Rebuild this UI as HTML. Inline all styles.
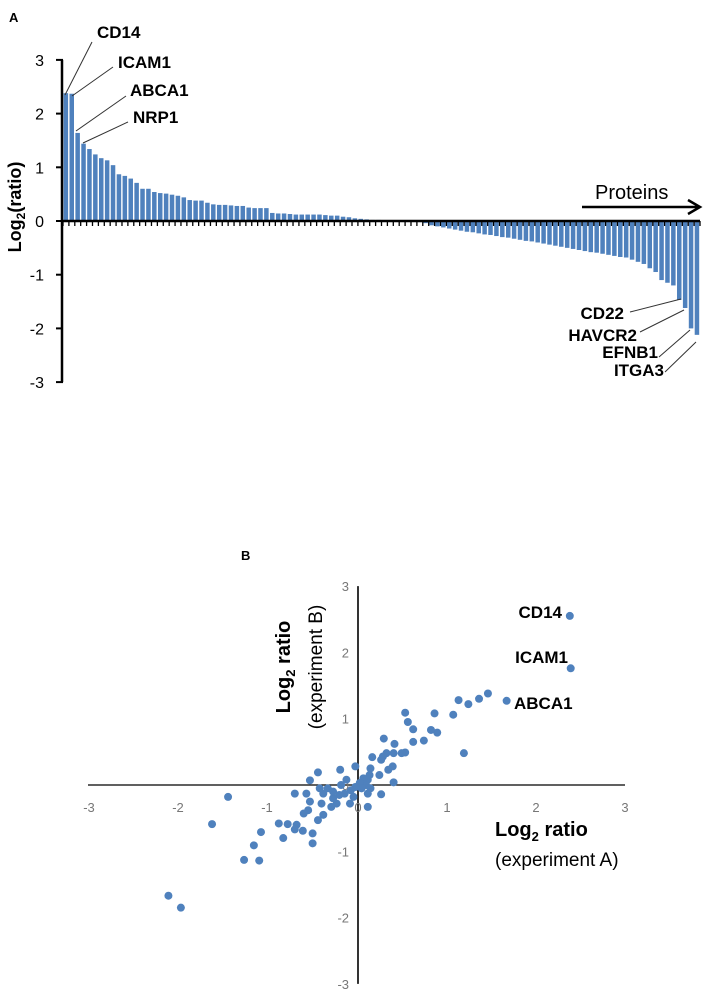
<!DOCTYPE html>
<html><head><meta charset="utf-8"><style>
body{margin:0;background:#fff;}
svg{display:block;font-family:"Liberation Sans",sans-serif;}
</style></head><body>
<svg id="fig" width="708" height="990" viewBox="0 0 708 990">
<g id="panelA"></g>
<g id="panelB"></g>
</svg>
<script>
// ---- Panel A data ----
const barValues = [2.38,2.37,1.64,1.44,1.34,1.24,1.17,1.13,1.04,0.87,0.84,0.79,0.71,0.6,0.6,0.54,0.52,0.51,0.49,0.47,0.44,0.39,0.38,0.38,0.34,0.31,0.3,0.3,0.29,0.28,0.28,0.25,0.24,0.24,0.24,0.15,0.14,0.14,0.13,0.12,0.12,0.12,0.12,0.12,0.11,0.1,0.1,0.08,0.07,0.05,0.04,0.03,0.02,0.02,0.01,0.01,0.01,0,0,-0.01,-0.02,-0.04,-0.08,-0.1,-0.12,-0.14,-0.16,-0.18,-0.2,-0.21,-0.23,-0.25,-0.26,-0.28,-0.3,-0.31,-0.33,-0.35,-0.37,-0.38,-0.4,-0.42,-0.44,-0.46,-0.48,-0.5,-0.52,-0.54,-0.56,-0.58,-0.59,-0.61,-0.63,-0.65,-0.67,-0.68,-0.72,-0.76,-0.8,-0.88,-0.95,-1.1,-1.15,-1.2,-1.47,-1.62,-2.0,-2.12];
const barTicks = [3,2,1,0,-1,-2,-3];
const barLabels = ["CD14","ICAM1","ABCA1","NRP1","CD22","HAVCR2","EFNB1","ITGA3"];
// ---- Panel B data ----
const scatterX = [2.38,2.39,1.67,1.46,1.36,1.24,1.13,1.07,0.86,0.89,0.82,1.19,0.74,0.62,0.62,0.56,0.53,0.53,0.49,0.41,0.40,0.39,0.40,0.29,0.32,0.28,0.26,0.34,0.24,0.26,0.16,0.14,0.13,0.11,0.09,0.14,0.11,0.11,0.06,0.02,0.04,-0.03,-0.03,-0.05,-0.08,-0.09,-0.13,-0.15,-0.20,-0.21,-0.24,-0.28,-0.30,-0.34,-0.39,-0.41,-0.43,-0.45,-0.54,-0.58,-0.54,-0.56,-0.61,-0.71,-0.39,-0.45,-0.51,-0.51,-0.62,-0.69,-0.71,-0.79,-0.89,-0.84,-1.09,-1.17,-1.11,-1.28,-1.46,-1.64,-2.13,-1.99,-0.19,-0.28];
const scatterY = [2.55,1.76,1.27,1.38,1.30,1.22,1.28,1.06,1.08,0.79,0.83,0.48,0.67,0.65,0.84,0.95,1.09,0.49,0.48,0.62,0.48,0.28,0.04,0.70,0.48,0.43,0.38,0.23,0.15,-0.14,0.42,0.25,0.15,0.08,0,-0.05,-0.13,-0.33,0.10,0.03,-0.05,0.28,-0.03,-0.18,-0.08,-0.28,0.08,-0.13,0.23,-0.15,-0.28,-0.20,-0.33,-0.05,-0.13,-0.28,-0.05,0.19,0.07,-0.13,-0.25,-0.38,-0.43,-0.13,-0.45,-0.53,-0.73,-0.88,-0.69,-0.60,-0.67,-0.59,-0.58,-0.80,-0.71,-0.91,-1.14,-1.13,-0.18,-0.59,-1.67,-1.85,0,-0.1];
const scatterTicks = [-3,-2,-1,0,1,2,3];
const scatterLabels = ["CD14","ICAM1","ABCA1"];

const NS="http://www.w3.org/2000/svg";
function mk(parent,tag,attrs,text){const e=document.createElementNS(NS,tag);for(const k in attrs)e.setAttribute(k,attrs[k]);if(text!==undefined)e.textContent=text;parent.appendChild(e);return e;}

// ===== Panel A =====
const A=document.getElementById('panelA');
const ax0=63, ax1=700, ayZero=221, ayUnit=53.7;
const ay=v=>ayZero-v*ayUnit;
const bw=(ax1-ax0)/barValues.length;
const bx=i=>ax0+i*bw;
let t=mk(A,'text',{x:9,y:22,'font-size':13,'font-weight':'bold'},'A');


barValues.forEach((v,i)=>{
  const y=Math.min(ay(v),ayZero), h=Math.abs(ay(v)-ayZero);
  const r=mk(A,'rect',{x:bx(i)+0.6,y:y,width:bw-1.4,height:Math.max(h,0.01),fill:'#4f81bd'});
  
  
});
// x axis with ticks
let xa=mk(A,'line',{x1:ax0,y1:ayZero,x2:ax1,y2:ayZero,stroke:'#000','stroke-width':2.5});


const tg=mk(A,'g',{});


for(let i=0;i<=barValues.length;i++){mk(tg,'line',{x1:bx(i),y1:ayZero,x2:bx(i),y2:ayZero+5,stroke:'#000','stroke-width':1.3});}
let ya=mk(A,'line',{x1:ax0-1,y1:ay(3),x2:ax0-1,y2:ay(-3),stroke:'#000','stroke-width':2.5});


barTicks.forEach(v=>{
  mk(A,'line',{x1:ax0-7,y1:ay(v),x2:ax0,y2:ay(v),stroke:'#000','stroke-width':2});
  const l=mk(A,'text',{x:44,y:ay(v)+6,'font-size':16,'text-anchor':'end'},String(v));
  
  
});
let yt=mk(A,'text',{transform:'translate(21,207) rotate(-90)','font-size':18,'font-weight':'bold','text-anchor':'middle'});
yt.innerHTML='Log<tspan font-size="12" dy="4">2</tspan><tspan dy="-4">(ratio)</tspan>';


// Labels & leaders
const aLab=[[97,38,'start',[65,95,92,42]],[118,68,'start',[72,96,113,67]],[130,96,'start',[76,131,126,96]],[133,123,'start',[83,143,128,122]],
 [624,319,'end',[630,312,681,299]],[637,341,'end',[640,332,684,310]],[658,358,'end',[659,357,690,330]],[664,376,'end',[665,372,696,342]]];
barLabels.forEach((s,i)=>{
  const p=aLab[i];
  const l=mk(A,'text',{x:p[0],y:p[1],'font-size':17,'font-weight':'bold','text-anchor':p[2]},s);
  
  
  const ln=mk(A,'line',{x1:p[3][0],y1:p[3][1],x2:p[3][2],y2:p[3][3],stroke:'#333','stroke-width':1});
  
  
});
let pr=mk(A,'text',{x:595,y:199,'font-size':20},'Proteins');


let ar=mk(A,'path',{d:'M582 207 H698 M688 200 L700 207 L688 214',stroke:'#000','stroke-width':2.5,fill:'none'});



// ===== Panel B =====
const B=document.getElementById('panelB');
const ox=358, oy=785, ux=89, uy=66.3;
const sx=v=>ox+v*ux, sy=v=>oy-v*uy;
let bl=mk(B,'text',{x:241,y:560,'font-size':13,'font-weight':'bold'},'B');


let sxa=mk(B,'line',{x1:sx(-3)-3,y1:oy,x2:sx(3),y2:oy,stroke:'#000','stroke-width':1.3});


let sya=mk(B,'line',{x1:ox,y1:sy(3),x2:ox,y2:sy(-3),stroke:'#000','stroke-width':1.6});


scatterTicks.forEach(v=>{
  const lx=mk(B,'text',{x:sx(v)-(v<0?2:0),y:oy+27,'font-size':13,fill:'#777','text-anchor':'middle'},String(v));
  
  
  const ly=mk(B,'text',{x:ox-9,y:sy(v)+5,'font-size':13,fill:'#777','text-anchor':'end'},String(v));
  
  
});
scatterX.forEach((x,i)=>{
  const c=mk(B,'circle',{cx:sx(x),cy:sy(scatterY[i]),r:4,fill:'#4f81bd'});
  
  
});
const bLab=[[562,618,'end'],[568,663,'end'],[514,709,'start']];
scatterLabels.forEach((s,i)=>{
  const p=bLab[i];
  const l=mk(B,'text',{x:p[0],y:p[1],'font-size':17,'font-weight':'bold','text-anchor':p[2]},s);
  
  
});
let xt=mk(B,'text',{x:495,y:836,'font-size':20,'font-weight':'bold'});
xt.innerHTML='Log<tspan font-size="13" dy="5">2</tspan><tspan dy="-5"> ratio</tspan>';


let xt2=mk(B,'text',{x:495,y:866,'font-size':19},'(experiment A)');


let yt1=mk(B,'text',{transform:'translate(290,667) rotate(-90)','font-size':20,'font-weight':'bold','text-anchor':'middle'});
yt1.innerHTML='Log<tspan font-size="13" dy="5">2</tspan><tspan dy="-5"> ratio</tspan>';


let yt2=mk(B,'text',{transform:'translate(322,667) rotate(-90)','font-size':19,'text-anchor':'middle'},'(experiment B)');


</script>
</body></html>
